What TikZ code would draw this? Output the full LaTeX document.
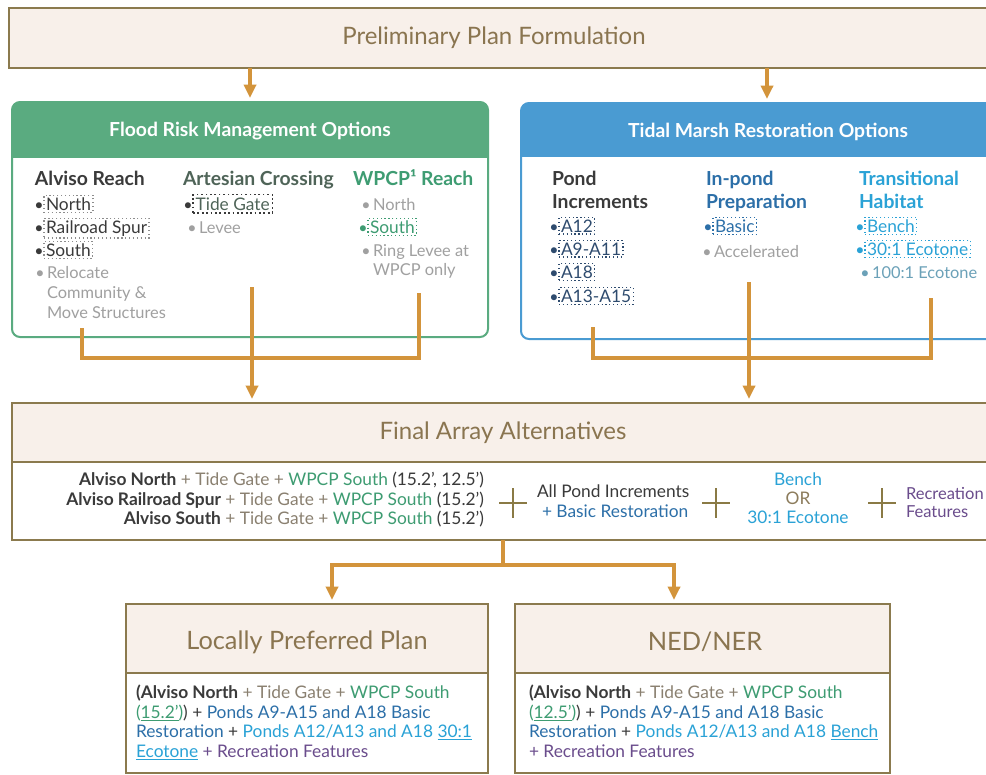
\documentclass[tikz,border=0pt]{standalone}
\usepackage{fontspec}
\setmainfont{Lato}
\usetikzlibrary{arrows.meta,fit}
\newcommand\fsz[2]{\fontsize{#1}{#2}\selectfont}
\definecolor{brn}{HTML}{8B7A4E}
\definecolor{ttl}{HTML}{8A7550}
\definecolor{bge}{HTML}{F8F0EA}
\definecolor{org}{HTML}{D3943B}
\definecolor{grn}{HTML}{5AAB80}
\definecolor{blu}{HTML}{4A9BD2}
\definecolor{dk}{HTML}{3A3A3A}
\definecolor{gry}{HTML}{A0A0A0}
\definecolor{tgc}{HTML}{8A8070}
\definecolor{art}{HTML}{4F6458}
\definecolor{wg}{HTML}{3E9C72}
\definecolor{nav}{HTML}{2E4B6E}
\definecolor{mbl}{HTML}{2C6FA8}
\definecolor{cyn}{HTML}{2AA2D6}
\definecolor{prp}{HTML}{6A4C8C}
\definecolor{orc}{HTML}{8C7C5C}
\definecolor{pls}{HTML}{8A7A45}
\tikzset{
  every node/.style={inner sep=0pt, outer sep=0pt},
  box/.style={draw=brn, line width=1.8pt, inner sep=0pt},
  arr/.style={draw=org, line width=3pt, -{Triangle[width=9pt,length=10pt]}, shorten >=3pt},
  ln/.style={draw=org, line width=3pt},
  itm/.style={anchor=base west, inner sep=1.5pt, font=\fsz{13}{15}},
  gitm/.style={anchor=base west, inner sep=1.5pt, font=\fsz{12.3}{15}},
  sel/.style={itm, draw=#1, dotted, line width=0.9pt},
  bul/.style={anchor=base east, font=\fsz{12}{14}, xshift=-0.3pt},
  hd/.style={anchor=base west, font=\fsz{14.5}{17}\bfseries},
  ttlfont/.style={font=\fsz{18}{21}, text=ttl},
  fl/.style={anchor=base east, font=\fsz{13}{15}},
  fr/.style={anchor=base west, font=\fsz{13}{15}},
  pl/.style={draw=pls, line width=2pt},
}
\begin{document}
\begin{tikzpicture}[x=0.75pt,y=-0.75pt]
\useasboundingbox (0,0) rectangle (986,775);
\clip (0,0) rectangle (986,775);
\fill[white] (0,0) rectangle (986,775);

% ---------- top box
\fill[bge] (9,8) rectangle (988,68);
\node[box, fit={(9,8)(988,68)}] (pre) {};
\node[ttlfont] (tpre) at (494,38) {Preliminary Plan Formulation};

% ---------- flood risk box
\begin{scope}
\clip[rounded corners=6pt] (12,102) rectangle (488,337);
\fill[grn] (12,102) rectangle (488,158);
\end{scope}
\node[draw=grn, line width=1.5pt, rounded corners=6pt, fit={(12,102)(488,337)}] (frm) {};
\node[font=\fsz{14.5}{17}\bfseries, text=white] (tfrm) at (250,131) {Flood Risk Management Options};

\node[hd, text=dk] (h1) at (35,185) {Alviso Reach};
\node[hd, text=art] (h2) at (183,185) {Artesian Crossing};
\node[hd, text=wg] (h3) at (353,185) {WPCP¹ Reach};

\node[sel=gry!120, text=dk] (a1) at (44,210) {North};
\node[bul, text=dk] (a1b) at (a1.base west) {•};
\node[sel=gry!120, text=dk] (a2) at (44,233) {Railroad Spur};
\node[bul, text=dk] (a2b) at (a2.base west) {•};
\node[sel=gry!120, text=dk] (a3) at (44,256) {South};
\node[bul, text=dk] (a3b) at (a3.base west) {•};
\node[gitm, text=gry] (a4) at (45,278) {Relocate};
\node[bul, text=gry] (a4b) at (a4.base west) {•};
\node[gitm, text=gry] (a5) at (45,298) {Community \&};
\node[gitm, text=gry] (a6) at (45,318) {Move Structures};

\node[sel=dk, text=art, line width=1.3pt, inner sep=2pt] (c1) at (193,210) {Tide Gate};
\node[bul, text=dk] (c1b) at (c1.base west) {•};
\node[gitm, text=gry] (c2) at (197,233) {Levee};
\node[bul, text=gry] (c2b) at (c2.base west) {•};

\node[gitm, text=gry] (w1) at (371,210) {North};
\node[bul, text=gry] (w1b) at (w1.base west) {•};
\node[sel=wg, text=wg] (w2) at (368,233) {South};
\node[bul, text=wg] (w2b) at (w2.base west) {•};
\node[gitm, text=gry] (w3) at (371,256) {Ring Levee at};
\node[bul, text=gry] (w3b) at (w3.base west) {•};
\node[gitm, text=gry] (w4) at (371,275) {WPCP only};

% ---------- tidal marsh box
\begin{scope}
\clip[rounded corners=6pt] (521,103) rectangle (1013,339);
\fill[blu] (521,103) rectangle (1013,157);
\end{scope}
\node[draw=blu, line width=1.5pt, rounded corners=6pt, fit={(521,103)(1013,339)}] (tmr) {};
\node[font=\fsz{14.5}{17}\bfseries, text=white] (ttmr) at (768,132) {Tidal Marsh Restoration Options};

\node[hd, text=dk] (k1) at (552,185) {Pond};
\node[hd, text=dk] (k2) at (552,208) {Increments};
\node[hd, text=mbl] (k3) at (706,185) {In-pond};
\node[hd, text=mbl] (k4) at (706,208) {Preparation};
\node[hd, text=cyn] (k5) at (859,185) {Transitional};
\node[hd, text=cyn] (k6) at (859,208) {Habitat};

\node[sel=nav, text=nav] (p1) at (559,232) {A12};
\node[bul, text=nav] (p1b) at (p1.base west) {•};
\node[sel=nav, text=nav] (p2) at (559,255) {A9-A11};
\node[bul, text=nav] (p2b) at (p2.base west) {•};
\node[sel=nav, text=nav] (p3) at (559,278) {A18};
\node[bul, text=nav] (p3b) at (p3.base west) {•};
\node[sel=nav, text=nav] (p4) at (559,302) {A13-A15};
\node[bul, text=nav] (p4b) at (p4.base west) {•};

\node[sel=mbl, text=mbl] (q1) at (713,232) {Basic};
\node[bul, text=mbl] (q1b) at (q1.base west) {•};
\node[gitm, text=gry] (q2) at (712,257) {Accelerated};
\node[bul, text=gry] (q2b) at (q2.base west) {•};

\node[sel=cyn, text=cyn] (r1) at (865,232) {Bench};
\node[bul, text=cyn] (r1b) at (r1.base west) {•};
\node[sel=cyn, text=cyn] (r2) at (865,255) {30:1 Ecotone};
\node[bul, text=cyn] (r2b) at (r2.base west) {•};
\node[gitm, text=cyn!45!gry] (r3) at (870,278) {100:1 Ecotone};
\node[bul, text=cyn!45!gry] (r3b) at (r3.base west) {•};

% ---------- final array box
\fill[bge] (12,403) rectangle (994,462);
\node[box, fit={(12,403)(994,540)}] (fa) {};
\draw[brn, line width=1.8pt] (fa.west |- 0,462) -- (fa.east |- 0,462);
\node[ttlfont] (tfa) at (503,433) {Final Array Alternatives};

\node[fl] (f1) at (484,485) {{\bfseries\color{dk}Alviso North}\textcolor{tgc}{\ + Tide Gate + }\textcolor{wg}{WPCP South}\textcolor{dk}{\ (15.2', 12.5')}};
\node[fl] (f2) at (484,505) {{\bfseries\color{dk}Alviso Railroad Spur}\textcolor{tgc}{\ + Tide Gate + }\textcolor{wg}{WPCP South}\textcolor{dk}{\ (15.2')}};
\node[fl] (f3) at (484,524) {{\bfseries\color{dk}Alviso South}\textcolor{tgc}{\ + Tide Gate + }\textcolor{wg}{WPCP South}\textcolor{dk}{\ (15.2')}};

\coordinate (pa) at (513,503);
\coordinate (pb) at (716,503);
\coordinate (pc) at (882,503);
\foreach \p in {pa,pb,pc}{
  \draw[pl] ([xshift=-10.5pt]\p) -- ([xshift=10.5pt]\p) ([yshift=11pt]\p) -- ([yshift=-11pt]\p);
}
\node[fr, text=dk] (g1) at (537,497) {All Pond Increments};
\node[fr, text=mbl] (g2) at (542,517) {+ Basic Restoration};
\node[anchor=base, font=\fsz{13}{15}, text=cyn] (o1) at (798,485) {Bench};
\node[anchor=base, font=\fsz{13}{15}, text=orc] (o2) at (798,504) {OR};
\node[anchor=base, font=\fsz{13}{15}, text=cyn] (o3) at (798,523) {30:1 Ecotone};
\node[fr, text=prp, font=\fsz{12.4}{15}] (e1) at (906,499) {Recreation};
\node[fr, text=prp, font=\fsz{12.4}{15}] (e2) at (906,517) {Features};

% ---------- bottom boxes
\fill[bge] (126,604) rectangle (488,673);
\node[box, fit={(126,604)(488,773)}] (lpp) {};
\draw[brn, line width=1.8pt] (lpp.west |- 0,673) -- (lpp.east |- 0,673);
\node[font=\fsz{19}{22}, text=ttl] (tlpp) at (307,642) {Locally Preferred Plan};

\fill[bge] (515,604) rectangle (890,673);
\node[box, fit={(515,604)(890,773)}] (ned) {};
\draw[brn, line width=1.8pt] (ned.west |- 0,673) -- (ned.east |- 0,673);
\node[font=\fsz{19}{22}, text=ttl] (tned) at (705,642) {NED/NER};

\node[fr] (l1) at (136,698) {\textcolor{dk}{\bfseries(Alviso North}\textcolor{tgc}{\ + Tide Gate + }\textcolor{wg}{WPCP South}};
\node[fr] (l2) at (136,718) {\textcolor{wg}{(\underline{15.2'})}\textcolor{dk}{) + }\textcolor{mbl}{Ponds A9-A15 and A18 Basic}};
\node[fr] (l3) at (136,737) {\textcolor{mbl}{Restoration}\textcolor{dk}{\ + }\textcolor{cyn}{Ponds A12/A13 and A18 \underline{30:1}}};
\node[fr] (l4) at (136,757) {\textcolor{cyn}{\underline{Ecotone}}\textcolor{prp}{\ + Recreation Features}};

\node[fr] (m1) at (529,698) {\textcolor{dk}{\bfseries(Alviso North}\textcolor{tgc}{\ + Tide Gate + }\textcolor{wg}{WPCP South}};
\node[fr] (m2) at (529,718) {\textcolor{wg}{(\underline{12.5'})}\textcolor{dk}{) + }\textcolor{mbl}{Ponds A9-A15 and A18 Basic}};
\node[fr] (m3) at (529,737) {\textcolor{mbl}{Restoration}\textcolor{dk}{\ + }\textcolor{cyn}{Ponds A12/A13 and A18 \underline{Bench}}};
\node[fr] (m4) at (529,757) {\textcolor{prp}{+ Recreation Features}};

% ---------- connectors
\draw[arr] (pre.south -| frm.north) -- (frm.north);
\draw[arr] (pre.south -| tmr.north) -- (tmr.north);

\coordinate (ga) at (82,328);
\coordinate (gm) at (252,287);
\coordinate (gc) at (419,293);
\coordinate (gbar) at (0,358);
\draw[ln] (ga) -- (ga |- gbar) -| (gc);
\draw[arr] (gm) -- (gm |- fa.north);

\coordinate (ta) at (593,327);
\coordinate (tm) at (749,282);
\coordinate (tc) at (931,298);
\draw[ln] (ta) -- (ta |- gbar) -| (tc);
\draw[arr] (tm) -- (tm |- fa.north);

\coordinate (b0) at (503,540);
\coordinate (bbar) at (0,565);
\coordinate (bl) at (332,0);
\coordinate (br) at (674,0);
\draw[ln] (fa.south -| b0) -- (b0 |- bbar);
\draw[arr] (b0 |- bbar) -| (bl |- lpp.north);
\draw[arr] (b0 |- bbar) -| (br |- ned.north);
\end{tikzpicture}
\end{document}
